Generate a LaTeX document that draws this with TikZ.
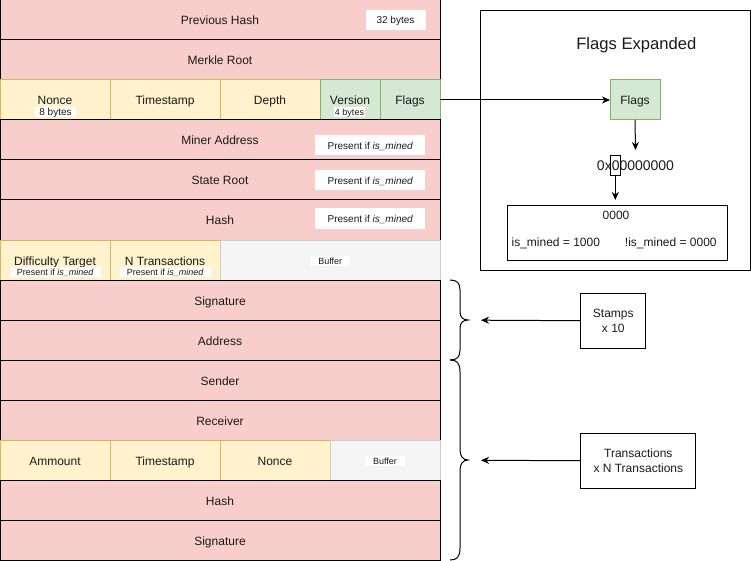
\documentclass[tikz,border=0pt]{standalone}
\usepackage{fontspec}
\setmainfont{Liberation Sans}
\usetikzlibrary{arrows.meta}
\newcommand{\fsz}[2]{\fontsize{#1pt}{#2pt}\selectfont}
\definecolor{redfill}{HTML}{F8CECC}
\definecolor{yelfill}{HTML}{FFF2CC}
\definecolor{yelline}{HTML}{D6B656}
\definecolor{grnfill}{HTML}{D5E8D4}
\definecolor{grnline}{HTML}{82B366}
\definecolor{greyfill}{HTML}{F5F5F5}
\definecolor{greyline}{HTML}{CCCCCC}
\definecolor{txt}{HTML}{1A1A1A}
\begin{document}
\begin{tikzpicture}[x=1pt,y=-1pt,line width=1pt,
  cell/.style={draw,anchor=north west,minimum height=40pt,inner sep=0pt,outer sep=0pt,text=txt,font=\fsz{12}{14},text height=10pt,text depth=0pt},
  redrow/.style={cell,fill=redfill,minimum width=440pt},
  yelcell/.style={cell,fill=yelfill,draw=yelline},
  grncell/.style={cell,fill=grnfill,draw=grnline},
  bufcell/.style={cell,fill=greyfill,draw=greyline},
  tag/.style={fill=white,inner sep=0pt,text=txt},
  tagbig/.style={tag,font=\fsz{10}{12},text height=8pt,text depth=0pt},
  tagsmall/.style={tag,font=\fsz{9}{10},text height=6.8pt,text depth=0pt},
  present/.style={tagbig,minimum width=110pt,minimum height=20pt},
  plain/.style={inner sep=0pt,text=txt,font=\fsz{12}{14}},
  infobox/.style={draw,anchor=north west,inner sep=0pt,text=txt,align=center,font=\fsz{12}{15}},
  arr/.style={-{Stealth[length=8pt,width=7pt,inset=2.5pt]}},
]
\useasboundingbox (0,0) rectangle (751,561);

% ---- block header ----
\node[redrow] (prevhash) at (0,0) {Previous Hash};
\node[redrow] (merkle) at (0,40) {Merkle Root};
\node[yelcell,minimum width=110pt] (nonce) at (0,80) {Nonce};
\node[yelcell,minimum width=110pt] (tstamp) at (110,80) {Timestamp};
\node[yelcell,minimum width=100pt] (depth) at (220,80) {Depth};
\node[grncell,minimum width=60pt] (version) at (320,80) {Version};
\node[grncell,minimum width=60pt] (flagsc) at (380,80) {Flags};
\node[redrow] (miner) at (0,120) {Miner Address};
\node[redrow] (state) at (0,160) {State Root};
\node[redrow] (hash) at (0,200) {Hash};
\node[yelcell,minimum width=110pt] (diff) at (0,240) {Difficulty Target};
\node[yelcell,minimum width=110pt] (ntx) at (110,240) {N Transactions};
\node[bufcell,minimum width=220pt] (bufA) at (220,240) {};
% ---- stamps ----
\node[redrow] (sig1) at (0,280) {Signature};
\node[redrow] (addr) at (0,320) {Address};
% ---- transactions ----
\node[redrow] (sender) at (0,360) {Sender};
\node[redrow] (receiver) at (0,400) {Receiver};
\node[yelcell,minimum width=110pt] (amount) at (0,440) {Ammount};
\node[yelcell,minimum width=110pt] (tstamp2) at (110,440) {Timestamp};
\node[yelcell,minimum width=110pt] (nonce2) at (220,440) {Nonce};
\node[bufcell,minimum width=110pt] (bufB) at (330,440) {};
\node[redrow] (hash2) at (0,480) {Hash};
\node[redrow] (sig2) at (0,520) {Signature};

% ---- white tags ----
\node[tagbig,minimum width=60pt,minimum height=20pt] (t32) at (395.5,20) {32 bytes};
\node[tagbig,minimum width=41pt,minimum height=10pt] (t8) at (55.5,112) {8 bytes};
\node[tagsmall,minimum width=31pt,minimum height=10pt] (t4) at (349.5,112) {4 bytes};
\node[present] (pminer) at (370.3,145.5) {Present if \textit{is\_mined}};
\node[present] (pstate) at (370.3,180.5) {Present if \textit{is\_mined}};
\node[present] (phash) at (370.3,218.5) {Present if \textit{is\_mined}};
\node[tagsmall,minimum width=91pt,minimum height=10pt] (pdiff) at (55.3,272) {Present if \textit{is\_mined}};
\node[tagsmall,minimum width=91pt,minimum height=10pt] (pntx) at (165.3,272) {Present if \textit{is\_mined}};
\node[tagsmall,minimum width=40pt,minimum height=10pt] (bufAt) at (330.3,260.7) {Buffer};
\node[tagsmall,minimum width=40pt,minimum height=10pt] (bufBt) at (385,461) {Buffer};

% ---- flags expanded ----
\node[draw,anchor=north west,minimum width=270pt,minimum height=260pt,inner sep=0pt] (flagsexp) at (480,10) {};
\node[plain,font=\fsz{16.6}{18}] (ftitle) at (636.3,45) {Flags Expanded};
\node[grncell,minimum width=50pt] (flagsbox) at (610,80) {Flags};
\node[plain,font=\fsz{14}{16}] (hex) at (635.5,166) {0x00000000};
\node[draw,minimum width=10.5pt,minimum height=20.5pt,inner sep=0pt] (bit) at (615.3,165.3) {};
\coordinate (hexin) at (635.5,150);
\coordinate (bitsin) at (615.3,200);
\node[draw,anchor=north west,minimum width=220pt,minimum height=55pt,inner sep=0pt] (bitsbox) at (507.3,205.3) {};
\node[plain] (b0000) at (616,215.5) {0000};
\node[plain] (bmined) at (555.8,243.7) {is\_mined = 1000};
\node[plain] (bnotmined) at (670.8,243.7) {!is\_mined = 0000};

\draw[arr] (flagsc.east) -- (flagsbox.west);
\draw[arr] (flagsbox.south) -- (hexin);
\draw[arr] (bit.south) -- (bitsin);

% ---- braces ----
\draw (450,280) .. controls (457,280) and (460,283) .. (460,290) -- (460,312)
  .. controls (460,317) and (463,320) .. (468,320)
  .. controls (463,320) and (460,323) .. (460,328) -- (460,350)
  .. controls (460,357) and (457,360) .. (450,360);
\draw (450,360) .. controls (457,360) and (460,363) .. (460,372) -- (460,450)
  .. controls (460,456) and (463,460) .. (468,460)
  .. controls (463,460) and (460,464) .. (460,470) -- (460,548)
  .. controls (460,557) and (457,560) .. (450,560);

% ---- info boxes ----
\node[infobox,minimum width=65pt,minimum height=55pt] (stamps) at (580.3,292.7) {Stamps\\x 10};
\node[infobox,minimum width=115pt,minimum height=55pt] (txs) at (580.3,432.7) {Transactions\\x N Transactions};
\coordinate (stampsend) at (481,320.2);
\coordinate (txsend) at (481,460.3);
\draw[arr] (stamps.west) -- (stampsend);
\draw[arr] (txs.west) -- (txsend);
\end{tikzpicture}
\end{document}
